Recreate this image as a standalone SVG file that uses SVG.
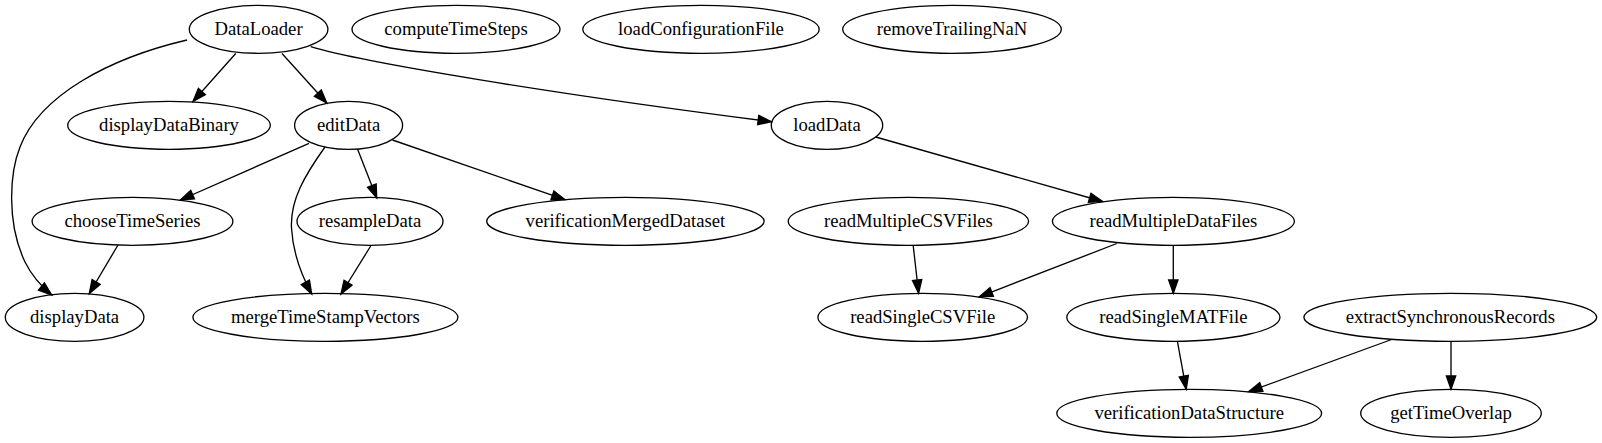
<svg xmlns="http://www.w3.org/2000/svg" width="1602" height="443" viewBox="0 0 1602 443">
<style>
.n ellipse{fill:none;stroke:#000;stroke-width:1.33}
.n text{font-family:"Liberation Serif","Times New Roman",serif;font-size:18.67px;text-anchor:middle;fill:#000}
#edges path{fill:none;stroke:#000;stroke-width:1.33;marker-end:url(#arr)}
</style>
<defs>
<marker id="arr" markerUnits="userSpaceOnUse" viewBox="-1 -1 15.5 11.5" markerWidth="15.5" markerHeight="11.5" refX="13.33" refY="4.67" orient="auto" overflow="visible">
<path d="M0,0 L13.33,4.67 L0,9.33 Z" fill="#000" stroke="#000" stroke-width="1.33"/>
</marker>
</defs>
<rect width="1602" height="443" fill="#fff"/>
<g id="edges">
<path d="M187,40 C110,58 40,95 20,147 C10,172 6,222 25,262 C33,278 42,287 51.7,295"/>
<path d="M235.7,53.5 L193,101.5"/>
<path d="M282,53.5 L326.8,103"/>
<path d="M310.7,46.7 C360,62 560,95 771.4,121.7"/>
<path d="M309,143.3 L180.4,200"/>
<path d="M325,147 C305,175 290,200 291.5,228 C293,255 303,278 311.7,294"/>
<path d="M357.5,149 L376.7,198"/>
<path d="M392.5,140 L565,199.7"/>
<path d="M118,245 L89.3,293.5"/>
<path d="M370.7,246 L341,294"/>
<path d="M875.7,137 L1102.5,201.5"/>
<path d="M913.2,245.5 L918.6,293.3"/>
<path d="M1116.8,243.5 L979.3,296.8"/>
<path d="M1173.3,245.3 L1173.3,293.3"/>
<path d="M1177.4,341.3 L1186.2,389.3"/>
<path d="M1391.6,339.5 L1248.8,391.6"/>
<path d="M1451,341.3 L1451,389.3"/>
</g>
<g id="DataLoader" class="n"><ellipse cx="258.6" cy="29.3" rx="69.3" ry="24"/><text x="258.6" y="34.9">DataLoader</text></g>
<g id="computeTimeSteps" class="n"><ellipse cx="456" cy="29.3" rx="104" ry="24"/><text x="456" y="34.9">computeTimeSteps</text></g>
<g id="loadConfigurationFile" class="n"><ellipse cx="701" cy="29.3" rx="118.2" ry="24"/><text x="701" y="34.9">loadConfigurationFile</text></g>
<g id="removeTrailingNaN" class="n"><ellipse cx="952" cy="29.3" rx="109.3" ry="24"/><text x="952" y="34.9">removeTrailingNaN</text></g>
<g id="displayDataBinary" class="n"><ellipse cx="169" cy="125.3" rx="101.3" ry="24"/><text x="169" y="130.9">displayDataBinary</text></g>
<g id="editData" class="n"><ellipse cx="348.6" cy="125.3" rx="54" ry="24"/><text x="348.6" y="130.9">editData</text></g>
<g id="loadData" class="n"><ellipse cx="827" cy="125.3" rx="55.7" ry="24"/><text x="827" y="130.9">loadData</text></g>
<g id="chooseTimeSeries" class="n"><ellipse cx="132.5" cy="221.3" rx="100.4" ry="24"/><text x="132.5" y="226.9">chooseTimeSeries</text></g>
<g id="resampleData" class="n"><ellipse cx="370" cy="221.3" rx="73" ry="24"/><text x="370" y="226.9">resampleData</text></g>
<g id="verificationMergedDataset" class="n"><ellipse cx="625.4" cy="221.3" rx="138.7" ry="24"/><text x="625.4" y="226.9">verificationMergedDataset</text></g>
<g id="readMultipleCSVFiles" class="n"><ellipse cx="908.4" cy="221.3" rx="120.2" ry="24"/><text x="908.4" y="226.9">readMultipleCSVFiles</text></g>
<g id="readMultipleDataFiles" class="n"><ellipse cx="1173.4" cy="221.3" rx="121" ry="24"/><text x="1173.4" y="226.9">readMultipleDataFiles</text></g>
<g id="displayData" class="n"><ellipse cx="74.6" cy="317.3" rx="69.3" ry="24"/><text x="74.6" y="322.9">displayData</text></g>
<g id="mergeTimeStampVectors" class="n"><ellipse cx="325.4" cy="317.3" rx="132.5" ry="24"/><text x="325.4" y="322.9">mergeTimeStampVectors</text></g>
<g id="readSingleCSVFile" class="n"><ellipse cx="922.7" cy="317.3" rx="104.8" ry="24"/><text x="922.7" y="322.9">readSingleCSVFile</text></g>
<g id="readSingleMATFile" class="n"><ellipse cx="1173.4" cy="317.3" rx="106.6" ry="24"/><text x="1173.4" y="322.9">readSingleMATFile</text></g>
<g id="extractSynchronousRecords" class="n"><ellipse cx="1450.3" cy="317.3" rx="146.4" ry="24"/><text x="1450.3" y="322.9">extractSynchronousRecords</text></g>
<g id="verificationDataStructure" class="n"><ellipse cx="1189.2" cy="413.3" rx="132.4" ry="24"/><text x="1189.2" y="418.9">verificationDataStructure</text></g>
<g id="getTimeOverlap" class="n"><ellipse cx="1451" cy="413.3" rx="90.3" ry="24"/><text x="1451" y="418.9">getTimeOverlap</text></g>
</svg>
